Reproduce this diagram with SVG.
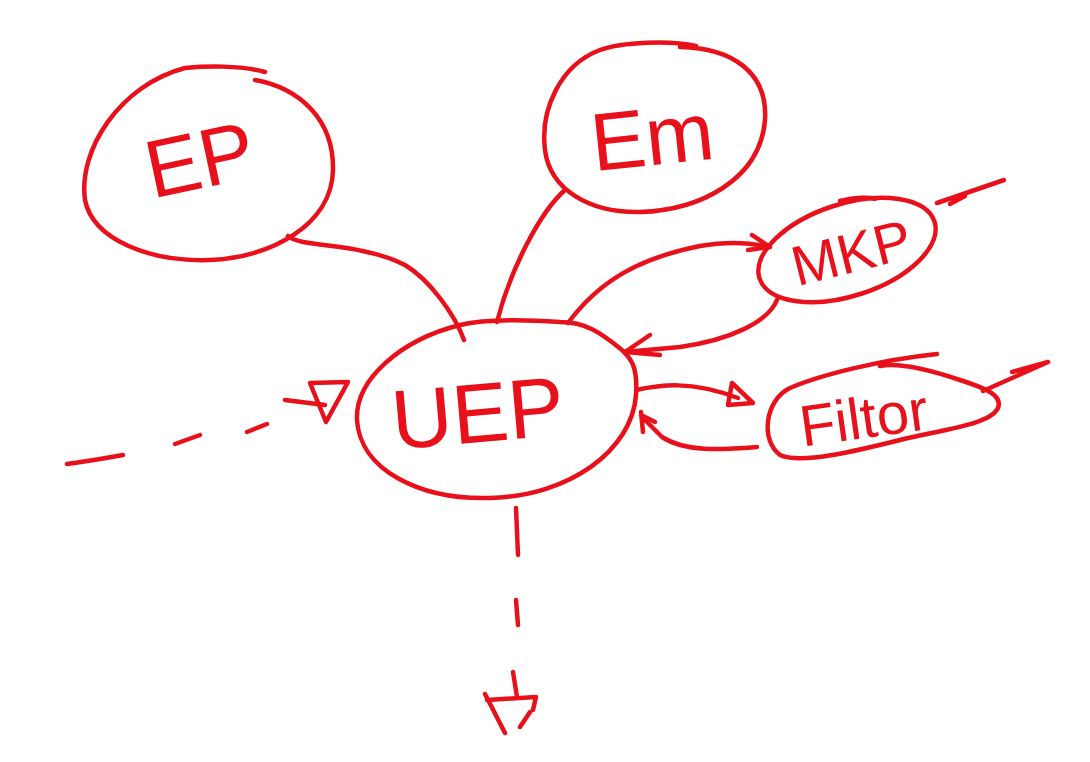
<svg xmlns="http://www.w3.org/2000/svg" width="1090" height="762" viewBox="0 0 1090 762">
<style>
.s{fill:none;stroke:#e8101a;stroke-width:4.5;stroke-linecap:round;stroke-linejoin:round}
.t{fill:#e8101a;font-family:"Liberation Sans",Arial,sans-serif}
</style>
<rect width="1090" height="762" fill="#ffffff"/>
<g id="node-EP">
<path class="s" d="M265,72 C240,65 205,66 185,68 C120,85 78,150 85,200 C93,240 150,262 210,260 C270,258 332,225 333,170 C334,120 300,88 255,80"/>
<text class="t" x="200" y="188" font-size="82" text-anchor="middle" transform="rotate(-12 200 160)">EP</text>
</g>
<g id="node-Em">
<path class="s" d="M696,46 C670,40 622,42 600,50 C560,65 540,110 545,150 C550,190 590,213 640,212 C700,210 760,180 765,120 C768,72 732,48 680,47"/>
<text class="t" x="652" y="165" font-size="82" text-anchor="middle" transform="rotate(-6 652 135)">Em</text>
</g>
<g id="node-MKP">
<ellipse class="s" cx="847" cy="250" rx="92" ry="46" transform="rotate(-18 847 250)"/>
<path class="s" d="M840,201 C855,197 870,197 875,199"/>
<text class="t" x="852" y="272" font-size="56" text-anchor="middle" transform="rotate(-14 852 255)">MKP</text>
</g>
<g id="node-UEP">
<path class="s" d="M460,325 C400,340 355,380 357,420 C360,470 420,500 490,498 C570,496 632,450 636,395 C638,365 630,358 622,350 C600,332 585,322 560,322 C530,320 490,318 460,325"/>
<text class="t" x="478" y="442" font-size="84" text-anchor="middle" transform="rotate(-5 478 415)">UEP</text>
</g>
<g id="node-Filter">
<path class="s" d="M937,354 C880,360 820,375 790,388 C765,400 760,440 780,455 C800,465 860,450 900,440 C940,430 990,425 998,408 C1003,395 985,388 960,380 C930,370 900,362 880,366"/>
<text class="t" x="864" y="438" font-size="58" text-anchor="middle" transform="rotate(-8 864 420)">Filtor</text>
</g>
<g id="connectors">
<path class="s" d="M288,236 C300,248 360,242 405,265 C430,280 455,315 464,340"/>
<path class="s" d="M565,190 C540,212 510,270 497,322"/>
<path class="s" d="M568,323 C600,280 640,258 700,246 C735,240 760,245 768,247"/>
<path class="s" d="M752,235 L770,247 L748,250"/>
<path class="s" d="M777,300 C768,322 730,340 680,347 L625,352"/>
<path class="s" d="M650,335 L625,352 L660,355"/>
<path class="s" d="M636,390 C660,385 690,380 738,398"/>
<path class="s" d="M732,383 L753,403 L728,405 Z"/>
<path class="s" d="M757,447 C720,450 685,452 662,437 L643,418"/>
<path class="s" d="M641,412 L643,432 M641,415 L655,422"/>
<path class="s" d="M983,391 L1048,362 L1012,372"/>
<path class="s" d="M937,203 L1004,180 M950,204 L965,196"/>
<path class="s" d="M67,464 C90,461 105,458 123,455"/>
<path class="s" d="M175,444 L200,435"/>
<path class="s" d="M247,432 L267,424"/>
<path class="s" d="M285,400 L325,405"/>
<path class="s" d="M310,383 L348,382 L326,422 Z"/>
<path class="s" d="M516,508 L518,555"/>
<path class="s" d="M516,600 L518,625"/>
<path class="s" d="M513,672 L517,697"/>
<path class="s" d="M485,694 L505,733 M487,700 L536,697 L533,710 M530,712 L520,727"/>
</g>
</svg>
